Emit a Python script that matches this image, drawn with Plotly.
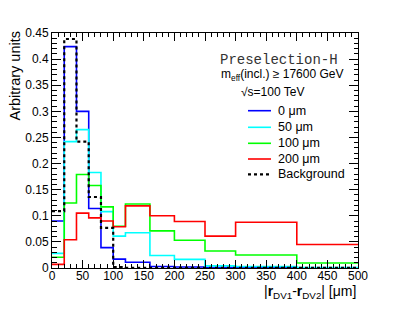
import plotly.graph_objects as go

# ---- data ----
bin_edges = [0, 20, 40, 60, 80, 100, 120, 160, 200, 250, 300, 400, 500]

series_names = ["0 \u03bcm", "50 \u03bcm", "100 \u03bcm", "200 \u03bcm", "Background"]

vals_0um = [0.090, 0.424, 0.300, 0.114, 0.039, 0.017, 0.011, 0.003, 0.002, 0.001, 0.0008, 0.0005]
vals_50um = [0.028, 0.242, 0.265, 0.183, 0.108, 0.061, 0.0675, 0.024, 0.0165, 0.004, 0.003, 0.001]
vals_100um = [0.0205, 0.1245, 0.179, 0.158, 0.117, 0.080, 0.1226, 0.071, 0.053, 0.0326, 0.025, 0.0095]
vals_200um = [0.007, 0.054, 0.105, 0.096, 0.090, 0.079, 0.119, 0.100, 0.089, 0.061, 0.0875, 0.045]
vals_bkg = [0.109, 0.4385, 0.242, 0.136, 0.077, 0.0015, 0.0005, 0.0003, 0.0002, 0.0001, 0.0001, 0.0001]

series_values = [vals_0um, vals_50um, vals_100um, vals_200um, vals_bkg]
series_colors = ["#0000ff", "#00ffff", "#00ff00", "#ff0000", "#000000"]
series_widths = [1.6, 1.6, 1.6, 1.6, 2.2]
series_dash = ["solid", "solid", "solid", "solid", "dot"]

FONT = "Liberation Sans, Arial, Helvetica, sans-serif"

fig = go.Figure()
for name, vals, col, w, d in zip(series_names, series_values, series_colors, series_widths, series_dash):
    fig.add_trace(go.Scatter(
        x=bin_edges, y=vals + [vals[-1]], mode="lines", name=name,
        line=dict(color=col, width=w, dash=d, shape="hv"),
        showlegend=False, hoverinfo="skip"))

# ---- layout geometry (pixels -> paper) ----
L, R, T, B = 52, 358, 33, 268
def px(x):
    return (x - L) / (R - L)
def py(y):
    return (B - y) / (B - T)

fig.update_layout(
    width=399, height=316,
    margin=dict(l=L, r=399 - R, t=T, b=316 - B),
    paper_bgcolor="white", plot_bgcolor="white",
    font=dict(family=FONT, color="black", size=12),
    showlegend=False,
)
fig.update_xaxes(
    range=[0, 500], dtick=50, tick0=0, showgrid=False, zeroline=False,
    showline=True, linecolor="black", linewidth=1, mirror="ticks",
    ticks="inside", ticklen=8, tickcolor="black", tickwidth=1,
    minor=dict(ticks="inside", dtick=10, ticklen=4, tickcolor="black", showgrid=False),
    tickfont=dict(family=FONT, size=12, color="black"),
    ticklabelstandoff=-3,
)
fig.update_yaxes(
    range=[0, 0.4500001], dtick=0.05, tick0=0, showgrid=False, zeroline=False,
    showline=True, linecolor="black", linewidth=1, mirror="ticks",
    ticks="inside", ticklen=9, tickcolor="black", tickwidth=1,
    minor=dict(ticks="inside", dtick=0.01, ticklen=4.5, tickcolor="black", showgrid=False),
    tickfont=dict(family=FONT, size=12, color="black"),
)

ann = []
# axis titles
ann.append(dict(text="|<b>r</b><sub>DV1</sub>-<b>r</b><sub>DV2</sub>| [\u03bcm]",
                xref="paper", yref="paper", x=1.0, y=py(292), xanchor="right", yanchor="middle",
                showarrow=False, font=dict(family=FONT, size=14, color="black")))
ann.append(dict(text="Arbitrary units", textangle=-90,
                xref="paper", yref="paper", x=px(14), y=py(30), xanchor="center", yanchor="top",
                showarrow=False, font=dict(family=FONT, size=14.5, color="black")))
# labels
ann.append(dict(text="Preselection-H", xref="paper", yref="paper", x=px(278.5), y=py(59.5),
                xanchor="center", yanchor="middle", showarrow=False,
                font=dict(family="Liberation Mono, Courier New, monospace", size=14, color="#333333")))
ann.append(dict(text="m<sub>eff</sub>(incl.) \u2265 17600 GeV", xref="paper", yref="paper",
                x=px(282), y=py(74.5), xanchor="center", yanchor="middle", showarrow=False,
                font=dict(family=FONT, size=12, color="black")))
ann.append(dict(text="\u221as=100 TeV", xref="paper", yref="paper",
                x=px(272.5), y=py(91.7), xanchor="center", yanchor="middle", showarrow=False,
                font=dict(family=FONT, size=12, color="black")))

# legend (manual, ROOT style)
legend_rows = [110.7, 127.3, 143.3, 159.0, 174.3]
shapes = []
for name, col, w, d, ry in zip(series_names, series_colors, series_widths, series_dash, legend_rows):
    shapes.append(dict(type="line", xref="paper", yref="paper",
                       x0=px(248), x1=px(271), y0=py(ry), y1=py(ry),
                       line=dict(color=col, width=w, dash=d)))
    ann.append(dict(text=name, xref="paper", yref="paper", x=px(276), y=py(ry),
                    xanchor="left", yanchor="middle", showarrow=False,
                    font=dict(family=FONT, size=12.5, color="black")))

fig.update_layout(annotations=ann, shapes=shapes)
fig.write_html("out.html", config={"displayModeBar": False, "staticPlot": True},
               post_script="document.body.style.margin='0';document.body.style.padding='0';")
